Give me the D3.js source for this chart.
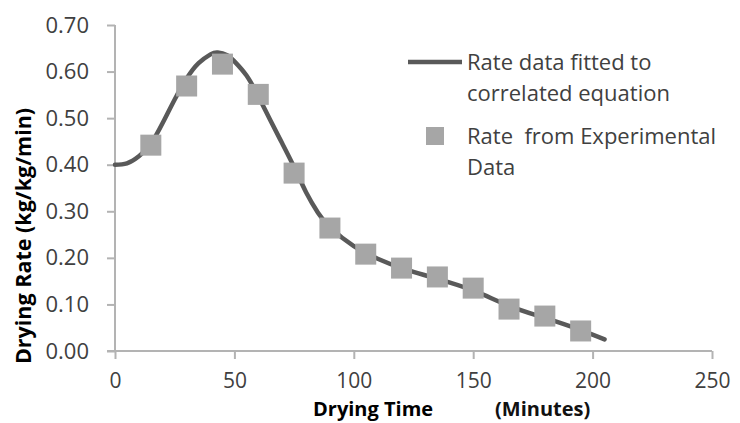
<!DOCTYPE html>
<html>
<head>
<meta charset="utf-8">
<script src="https://cdn.jsdelivr.net/npm/d3@7"></script>
<style>
  html, body { margin: 0; padding: 0; background: #fff; }
  svg { display: block; }
</style>
</head>
<body>
<div id="chart"></div>
<script>
// ── Data ──
const expTime = [15, 30, 45, 60, 75, 90, 105, 120, 135, 150, 165, 180, 195];
const expRate = [0.442, 0.569, 0.616, 0.551, 0.382, 0.264, 0.208, 0.178, 0.159, 0.135, 0.090, 0.075, 0.043];

const fitTime = [0, 5, 10, 15, 20, 25, 30, 35, 40, 43, 47, 50, 55, 60, 65, 70, 75, 80, 85, 90, 100, 110, 120, 135, 150, 165, 180, 195, 205];
const fitRate = [0.400, 0.403, 0.418, 0.445, 0.490, 0.540, 0.585, 0.618, 0.637, 0.641, 0.635, 0.622, 0.592, 0.547, 0.496, 0.446, 0.395, 0.341, 0.297, 0.266, 0.225, 0.198, 0.178, 0.155, 0.130, 0.097, 0.071, 0.045, 0.025];

const xTicks = [0, 50, 100, 150, 200, 250];
const yTicks = [0, 0.1, 0.2, 0.3, 0.4, 0.5, 0.6, 0.7];

const legendItems = [
  { kind: 'line',   lines: ['Rate data fitted to', 'correlated equation'] },
  { kind: 'square', lines: ['Rate\u00a0 from Experimental', 'Data'] }
];

const W = 740, H = 423;
const FONT = "'Open Sans', 'Noto Sans', sans-serif";
const AXIS_COLOR = '#b3b3b3';
const LINE_COLOR = '#595959';
const MARK_COLOR = '#a6a6a6';

const svg = d3.select('#chart').append('svg')
  .attr('width', W)
  .attr('height', H);

const x = d3.scaleLinear().domain([0, 250]).range([115, 712]);
const y = d3.scaleLinear().domain([0, 0.7]).range([351, 25]);

// ── Axes ──
const yAxis = svg.append('g')
  .attr('transform', `translate(${x(0)},0)`)
  .call(d3.axisLeft(y).tickValues(yTicks).tickSize(8).tickPadding(18).tickFormat(d3.format('.2f')));

const xAxis = svg.append('g')
  .attr('transform', `translate(0,${y(0)})`)
  .call(d3.axisBottom(x).tickValues(xTicks).tickSize(8).tickPadding(14).tickFormat(d3.format('d')));

[yAxis, xAxis].forEach(ax => {
  ax.select('.domain').attr('stroke', AXIS_COLOR).attr('stroke-width', 2);
  ax.selectAll('.tick line').attr('stroke', AXIS_COLOR).attr('stroke-width', 2);
  ax.selectAll('.tick text')
    .attr('fill', '#404040')
    .attr('font-family', FONT)
    .attr('font-size', 22);
});
xAxis.selectAll('.tick text').attr('font-size', 21);
// Excel-style: axis line has no outer tick caps
yAxis.select('.domain').attr('d', `M0,${y(0.7)}V${y(0)}`);
xAxis.select('.domain').attr('d', `M${x(0) - 8},0H${x(250)}`);

// ── Fitted curve ──
const line = d3.line()
  .x((d, i) => x(fitTime[i]))
  .y(d => y(d))
  .curve(d3.curveNatural);

svg.append('path')
  .datum(fitRate)
  .attr('d', line)
  .attr('fill', 'none')
  .attr('stroke', LINE_COLOR)
  .attr('stroke-width', 4.5)
  .attr('stroke-linecap', 'round');

// ── Experimental points ──
const SQ = 21;
svg.append('g')
  .selectAll('rect')
  .data(expRate)
  .join('rect')
  .attr('x', (d, i) => x(expTime[i]) - SQ / 2)
  .attr('y', d => y(d) - SQ / 2)
  .attr('width', SQ)
  .attr('height', SQ)
  .attr('fill', MARK_COLOR);

// ── Axis titles ──
svg.append('text')
  .attr('transform', 'translate(31,236) rotate(-90)')
  .attr('text-anchor', 'middle')
  .attr('font-family', FONT)
  .attr('font-weight', 'bold')
  .attr('font-size', 21.5)
  .attr('fill', '#000')
  .text('Drying Rate (kg/kg/min)');

svg.append('text')
  .attr('x', 313)
  .attr('y', 416)
  .attr('font-family', FONT)
  .attr('font-weight', 'bold')
  .attr('font-size', 20)
  .attr('fill', '#000')
  .text('Drying Time');

svg.append('text')
  .attr('x', 495)
  .attr('y', 416)
  .attr('font-family', FONT)
  .attr('font-weight', 'bold')
  .attr('font-size', 20)
  .attr('fill', '#111')
  .text('(Minutes)');

// ── Legend ──
const legend = svg.append('g');
legendItems.forEach((item, k) => {
  const cy = 62 + k * 74;
  if (item.kind === 'line') {
    legend.append('line')
      .attr('x1', 408).attr('x2', 462)
      .attr('y1', cy).attr('y2', cy)
      .attr('stroke', LINE_COLOR)
      .attr('stroke-width', 4.5);
  } else {
    legend.append('rect')
      .attr('x', 426).attr('y', cy - 9)
      .attr('width', 18).attr('height', 18)
      .attr('fill', MARK_COLOR);
  }
  item.lines.forEach((t, j) => {
    legend.append('text')
      .attr('x', 467)
      .attr('y', cy + j * 31)
      .attr('dy', '0.35em')
      .attr('font-family', FONT)
      .attr('font-size', 22)
      .attr('fill', '#404040')
      .text(t);
  });
});
</script>
</body>
</html>
